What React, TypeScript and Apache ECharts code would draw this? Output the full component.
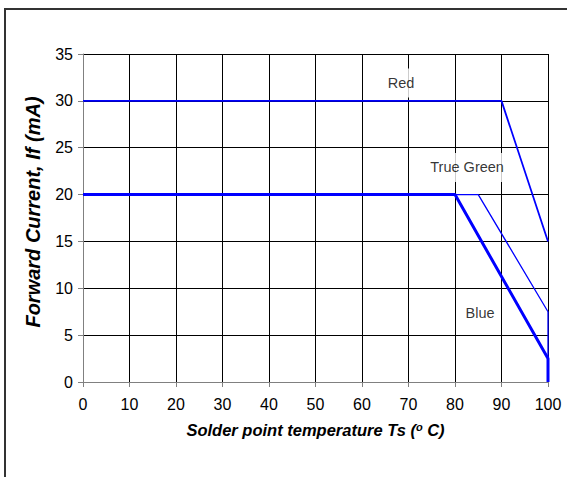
import React, { useEffect, useRef } from "react";
import * as echarts from "echarts";

const redX = [0, 90, 100];
const redY = [30, 30, 15];
const greenX = [0, 85, 100, 100];
const greenY = [20, 20, 7.5, 0];
const blueX = [0, 80, 100, 100];
const blueY = [20, 20, 2.5, 0];
const labelNames = ["Red", "True Green", "Blue"];
const labelX = [68.4, 82.6, 85.4];
const labelY = [31.9, 22.9, 7.4];

const FONT = "'Liberation Sans', Arial, sans-serif";

export default function App() {
  const ref = useRef<HTMLDivElement>(null);
  useEffect(() => {
    const chart = echarts.init(ref.current!, null, { renderer: "svg" });
    const pair = (xs: number[], ys: number[]) => xs.map((x, i) => [x, ys[i]]);
    chart.setOption({
      animation: false,
      backgroundColor: "#fff",
      textStyle: { fontFamily: FONT },
      graphic: [
        {
          type: "rect",
          shape: { x: 5, y: 9, width: 700, height: 600 },
          style: { fill: "none", stroke: "#333", lineWidth: 2 },
          silent: true,
        },
      ],
      grid: { left: 83, top: 54, width: 465, height: 328, containLabel: false },
      xAxis: {
        type: "value",
        min: 0,
        max: 100,
        interval: 10,
        name: "{a|Solder point temperature Ts (}{s|o}{a| C)}",
        nameLocation: "middle",
        nameGap: 39,
        nameTextStyle: {
          rich: {
            a: { fontSize: 16.5, fontWeight: "bold", fontStyle: "italic", color: "#000", fontFamily: FONT },
            s: { fontSize: 11, fontWeight: "bold", fontStyle: "italic", color: "#000", fontFamily: FONT, verticalAlign: "top", padding: [0, 0, 7, 0] },
          },
        },
        axisLine: { show: true, lineStyle: { color: "#808080", width: 1 } },
        axisTick: { show: true, length: 5, lineStyle: { color: "#808080" } },
        axisLabel: { fontSize: 16, color: "#000", margin: 14, fontFamily: FONT },
        splitLine: { show: true, lineStyle: { color: "#000", width: 1 } },
      },
      yAxis: {
        type: "value",
        min: 0,
        max: 35,
        interval: 5,
        name: "Forward Current, If (mA)",
        nameLocation: "middle",
        nameGap: 40,
        nameTextStyle: {
          fontSize: 20,
          fontWeight: "bold",
          fontStyle: "italic",
          color: "#000",
          fontFamily: FONT,
          padding: [0, 0, 0, 12],
        },
        axisLine: { show: true, lineStyle: { color: "#808080", width: 1 } },
        axisTick: { show: true, length: 5, lineStyle: { color: "#808080" } },
        axisLabel: { fontSize: 16, color: "#000", margin: 10, fontFamily: FONT },
        splitLine: { show: true, lineStyle: { color: "#000", width: 1 } },
      },
      series: [
        {
          type: "scatter",
          data: labelNames.map((n, i) => ({ name: n, value: [labelX[i], labelY[i]] })),
          symbolSize: 0,
          z: 3,
          label: {
            show: true,
            position: "inside",
            formatter: "{b}",
            fontSize: 14.5,
            color: "#000",
            fontFamily: FONT,
            backgroundColor: "#fff",
            padding: [7, 4],
          },
        },
        {
          type: "line",
          data: pair(redX, redY),
          showSymbol: false,
          symbol: "none",
          z: 4,
          lineStyle: { color: "#0000ff", width: 1.8 },
        },
        {
          type: "line",
          data: pair(greenX, greenY),
          showSymbol: false,
          symbol: "none",
          z: 4,
          lineStyle: { color: "#0000ff", width: 1.3 },
        },
        {
          type: "line",
          data: pair(blueX, blueY),
          showSymbol: false,
          symbol: "none",
          z: 4,
          lineStyle: { color: "#0000ff", width: 3 },
        },
      ],
    });
    return () => chart.dispose();
  }, []);
  return (
    <div
      ref={ref}
      style={{ position: "absolute", left: 0, top: 0, width: 567, height: 477 }}
    />
  );
}
